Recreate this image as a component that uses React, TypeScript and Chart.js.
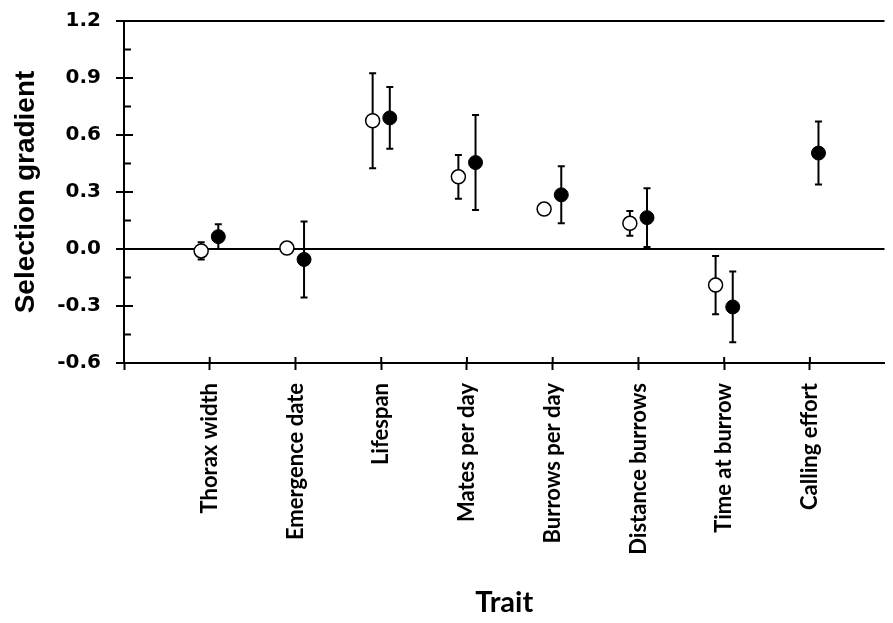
import React, { useEffect, useRef } from 'react';
import { Chart, registerables } from 'chart.js';
Chart.register(...registerables);

const traits = ['Thorax width', 'Emergence date', 'Lifespan', 'Mates per day', 'Burrows per day', 'Distance burrows', 'Time at burrow', 'Calling effort'];
const openMean: (number | null)[] = [-0.01, 0.005, 0.675, 0.38, 0.21, 0.135, -0.19, null];
const openErr: (number | null)[] = [0.045, 0, 0.25, 0.115, 0, 0.065, 0.153, null];
const filledMean: (number | null)[] = [0.065, -0.055, 0.69, 0.455, 0.285, 0.165, -0.305, 0.505];
const filledErr: (number | null)[] = [0.065, 0.2, 0.163, 0.25, 0.15, 0.155, 0.186, 0.166];
const yMajorTicks = [-0.6, -0.3, 0, 0.3, 0.6, 0.9, 1.2];
const yMinorTicks = [-0.45, -0.15, 0.15, 0.45, 0.75, 1.05];
const xTickPositions = [0, 1, 2, 3, 4, 5, 6, 7, 8];
const groupOffset = 0.1;

function buildPoints(means: (number | null)[], errs: (number | null)[], off: number) {
  const pts: any[] = [];
  means.forEach((m, i) => {
    if (m !== null) pts.push({ x: i + 1 + off, y: m, err: errs[i] ?? 0 });
  });
  return pts;
}

const errorBarPlugin = {
  id: 'errorBars',
  beforeDatasetsDraw(chart: any) {
    const { ctx, scales } = chart;
    const xs = scales.x, ys = scales.y;
    ctx.save();
    ctx.strokeStyle = '#000';
    ctx.lineWidth = 2;
    chart.data.datasets.forEach((ds: any) => {
      ds.data.forEach((p: any) => {
        if (!p.err) return;
        const x = xs.getPixelForValue(p.x);
        const y1 = ys.getPixelForValue(p.y + p.err);
        const y2 = ys.getPixelForValue(p.y - p.err);
        ctx.beginPath();
        ctx.moveTo(x, y1); ctx.lineTo(x, y2);
        ctx.moveTo(x - 3.5, y1); ctx.lineTo(x + 3.5, y1);
        ctx.moveTo(x - 3.5, y2); ctx.lineTo(x + 3.5, y2);
        ctx.stroke();
      });
    });
    ctx.restore();
  },
  afterDraw(chart: any) {
    const { ctx, scales, chartArea } = chart;
    const xs = scales.x, ys = scales.y;
    ctx.save();
    ctx.strokeStyle = '#000';
    ctx.lineWidth = 2;
    ctx.beginPath();
    yMajorTicks.forEach(v => {
      const y = ys.getPixelForValue(v);
      ctx.moveTo(chartArea.left, y); ctx.lineTo(chartArea.left + 9, y);
    });
    yMinorTicks.forEach(v => {
      const y = ys.getPixelForValue(v);
      ctx.moveTo(chartArea.left, y); ctx.lineTo(chartArea.left + 7, y);
    });
    xTickPositions.forEach(v => {
      if (v === 0) return;
      const x = xs.getPixelForValue(v);
      ctx.moveTo(x, chartArea.bottom); ctx.lineTo(x, chartArea.bottom - 6);
    });
    ctx.stroke();
    ctx.restore();
  },
};

export default function App() {
  const ref = useRef<HTMLCanvasElement>(null);
  useEffect(() => {
    if (!ref.current) return;
    const chart = new Chart(ref.current, {
      type: 'scatter',
      data: {
        datasets: [
          {
            label: 'Open',
            data: buildPoints(openMean, openErr, -groupOffset),
            pointRadius: 7,
            pointBackgroundColor: '#fff',
            pointBorderColor: '#000',
            pointBorderWidth: 1.5,
          },
          {
            label: 'Filled',
            data: buildPoints(filledMean, filledErr, groupOffset),
            pointRadius: 7,
            pointBackgroundColor: '#000',
            pointBorderColor: '#000',
            pointBorderWidth: 1,
          },
        ],
      },
      options: {
        responsive: false,
        animation: false,
        devicePixelRatio: 1,
        layout: { padding: { top: 21, right: 0, left: 0, bottom: 0 } },
        plugins: { legend: { display: false }, tooltip: { enabled: false } },
        scales: {
          x: {
            type: 'linear',
            min: 0,
            max: 8.87,
            afterBuildTicks: (scale: any) => {
              scale.ticks = xTickPositions.map(v => ({ value: v }));
            },
            afterFit: (scale: any) => {
              scale.height = 260;
              scale.paddingLeft = 0;
              scale.paddingRight = 0;
            },
            ticks: {
              autoSkip: false,
              minRotation: 90,
              maxRotation: 90,
              padding: 13,
              color: '#000',
              font: { family: 'Lato', weight: 'bold', size: 22 },
              callback: (v: any) => (v >= 1 && v <= traits.length ? traits[v - 1] : ''),
            },
            grid: { display: true, drawOnChartArea: false, tickLength: 7, tickColor: '#000', tickWidth: 2 },
            border: { display: true, color: '#000', width: 2 },
            title: {
              display: true,
              text: 'Trait',
              color: '#000',
              font: { family: 'Lato', weight: 'bold', size: 29 },
              padding: { top: 0, bottom: 3 },
            },
          },
          y: {
            type: 'linear',
            min: -0.6,
            max: 1.2,
            afterBuildTicks: (scale: any) => {
              scale.ticks = yMajorTicks.map(v => ({ value: v }));
            },
            afterFit: (scale: any) => {
              scale.width = 124;
              scale.paddingTop = 0;
              scale.paddingBottom = 0;
            },
            ticks: {
              padding: 15,
              color: '#000',
              font: { family: 'DejaVu Sans', weight: 'bold', size: 20 },
              callback: (v: any) => Number(v).toFixed(1),
            },
            grid: {
              display: true,
              drawOnChartArea: true,
              tickLength: 8,
              tickColor: '#000',
              tickWidth: 2,
              lineWidth: 2,
              color: (c: any) => {
                const v = c.tick ? c.tick.value : null;
                return v === 0 || v === 1.2 || v === -0.6 ? '#000' : 'rgba(0,0,0,0)';
              },
            },
            border: { display: true, color: '#000', width: 2 },
            title: {
              display: true,
              text: 'Selection gradient',
              color: '#000',
              font: { family: 'Liberation Sans', weight: 'bold', size: 28 },
              padding: { top: 9, bottom: 0 },
            },
          },
        },
      },
      plugins: [errorBarPlugin],
    } as any);
    return () => chart.destroy();
  }, []);
  return (
    <div style={{ position: 'absolute', left: 0, top: 0, width: 893, height: 623, background: '#fff' }}>
      <canvas ref={ref} width={893} height={623} />
    </div>
  );
}
